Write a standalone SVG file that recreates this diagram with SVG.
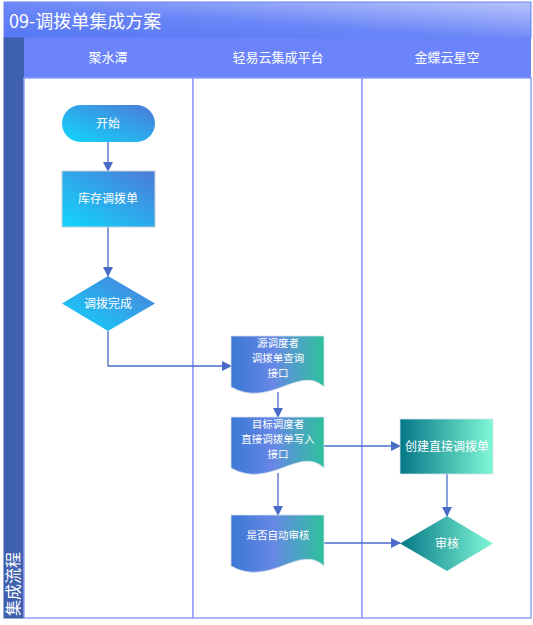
<svg xmlns="http://www.w3.org/2000/svg" width="533" height="625" viewBox="0 0 533 625">
<defs>
<linearGradient id="gTitle" x1="0" y1="1" x2="1" y2="0">
<stop offset="0" stop-color="#5577f5"/><stop offset="0.45" stop-color="#6a86f7"/><stop offset="1" stop-color="#b8c3fb"/>
</linearGradient>
<linearGradient id="gBlue" x1="0" y1="1" x2="1" y2="0">
<stop offset="0" stop-color="#10d6fd"/><stop offset="1" stop-color="#4d7ad8"/>
</linearGradient>
<linearGradient id="gDoc" x1="0" y1="0" x2="1" y2="0">
<stop offset="0" stop-color="#3b78d4"/><stop offset="0.45" stop-color="#6787e6"/><stop offset="1" stop-color="#2dc19d"/>
</linearGradient>
<linearGradient id="gTeal" x1="0" y1="0" x2="1" y2="0">
<stop offset="0" stop-color="#047787"/><stop offset="1" stop-color="#80f8d6"/>
</linearGradient>
<marker id="arr" markerWidth="10" markerHeight="10" refX="9" refY="5" orient="auto" markerUnits="userSpaceOnUse">
<path d="M0,0 L10,5 L0,10 Z" fill="#4a6cc8"/>
</marker>
<style>
.lbl{font-family:"Noto Sans CJK SC","Liberation Sans",sans-serif;fill:#ffffff;font-size:12px;text-anchor:middle}
.sm{font-size:10.5px}
.hdr{font-family:"Noto Sans CJK SC","Liberation Sans",sans-serif;fill:#ffffff;font-size:13px;text-anchor:middle}
.conn{fill:none;stroke:#4a6cc8;stroke-width:1.3;marker-end:url(#arr)}
.lane{fill:#ffffff;stroke:#8e9ff6;stroke-width:1.5}
</style>
</defs>
<g id="frame">
<rect x="4" y="2" width="527" height="36" fill="url(#gTitle)" stroke="#6b84f0" stroke-width="1"/>
<text x="9" y="28" font-family="Noto Sans CJK SC,Liberation Sans,sans-serif" font-size="18" fill="#ffffff">09-调拨单集成方案</text>
<rect x="4" y="38" width="20" height="580" fill="#3e60ae" stroke="#3a5aa5" stroke-width="1"/>
<text transform="translate(19,616) rotate(-90)" font-family="Noto Sans CJK SC,Liberation Sans,sans-serif" font-size="16" fill="#ffffff">集成流程</text>
<rect x="24" y="38" width="507" height="40" fill="#6b84fb"/>
<rect class="lane" x="24" y="78" width="169" height="540"/>
<rect class="lane" x="193" y="78" width="169" height="540"/>
<rect class="lane" x="362" y="78" width="169" height="540"/>
<text class="hdr" x="108" y="62">聚水潭</text>
<text class="hdr" x="278" y="62">轻易云集成平台</text>
<text class="hdr" x="447" y="62">金蝶云星空</text>
</g>
<g id="connectors">
<path class="conn" d="M108,142 V171"/>
<path class="conn" d="M108,227 V276"/>
<path class="conn" d="M108,331 V366 H231"/>
<path class="conn" d="M278,392 V417"/>
<path class="conn" d="M324,446 H400"/>
<path class="conn" d="M278,473 V515"/>
<path class="conn" d="M447,474 V516"/>
<path class="conn" d="M324,543 H400"/>
</g>
<g id="n-start">
<rect x="62" y="105" width="93" height="37" rx="18.5" fill="url(#gBlue)"/>
<text class="lbl" x="108" y="128">开始</text>
</g>
<g id="n-stock">
<rect x="62" y="171" width="93" height="56" fill="url(#gBlue)" stroke="#c8d0dc" stroke-width="1"/>
<text class="lbl" x="108" y="203">库存调拨单</text>
</g>
<g id="n-done">
<path d="M108,276 L155,303.5 L108,331 L62,303.5 Z" fill="url(#gBlue)"/>
<text class="lbl" x="108" y="308">调拨完成</text>
</g>
<g id="n-query">
<path d="M231,336 H324 V387 C300,364 270,409 231,387 Z" fill="url(#gDoc)" stroke="#d8e0ea" stroke-width="0.8"/>
<text class="lbl sm" x="278" y="347">源调度者</text>
<text class="lbl sm" x="278" y="362">调拨单查询</text>
<text class="lbl sm" x="278" y="377">接口</text>
</g>
<g id="n-write">
<path d="M231,417 H324 V468 C300,445 270,490 231,468 Z" fill="url(#gDoc)" stroke="#d8e0ea" stroke-width="0.8"/>
<text class="lbl sm" x="278" y="428">目标调度者</text>
<text class="lbl sm" x="278" y="443">直接调拨单写入</text>
<text class="lbl sm" x="278" y="458">接口</text>
</g>
<g id="n-auto">
<path d="M231,515 H324 V566 C300,543 270,588 231,566 Z" fill="url(#gDoc)" stroke="#d8e0ea" stroke-width="0.8"/>
<text class="lbl sm" x="278" y="539">是否自动审核</text>
</g>
<g id="n-create">
<rect x="400" y="419" width="93" height="55" fill="url(#gTeal)" stroke="#d8e0ea" stroke-width="0.8"/>
<text class="lbl" x="447" y="451">创建直接调拨单</text>
</g>
<g id="n-audit">
<path d="M447,516 L493,543.5 L447,571 L400,543.5 Z" fill="url(#gTeal)"/>
<text class="lbl" x="447" y="548">审核</text>
</g>
</svg>
